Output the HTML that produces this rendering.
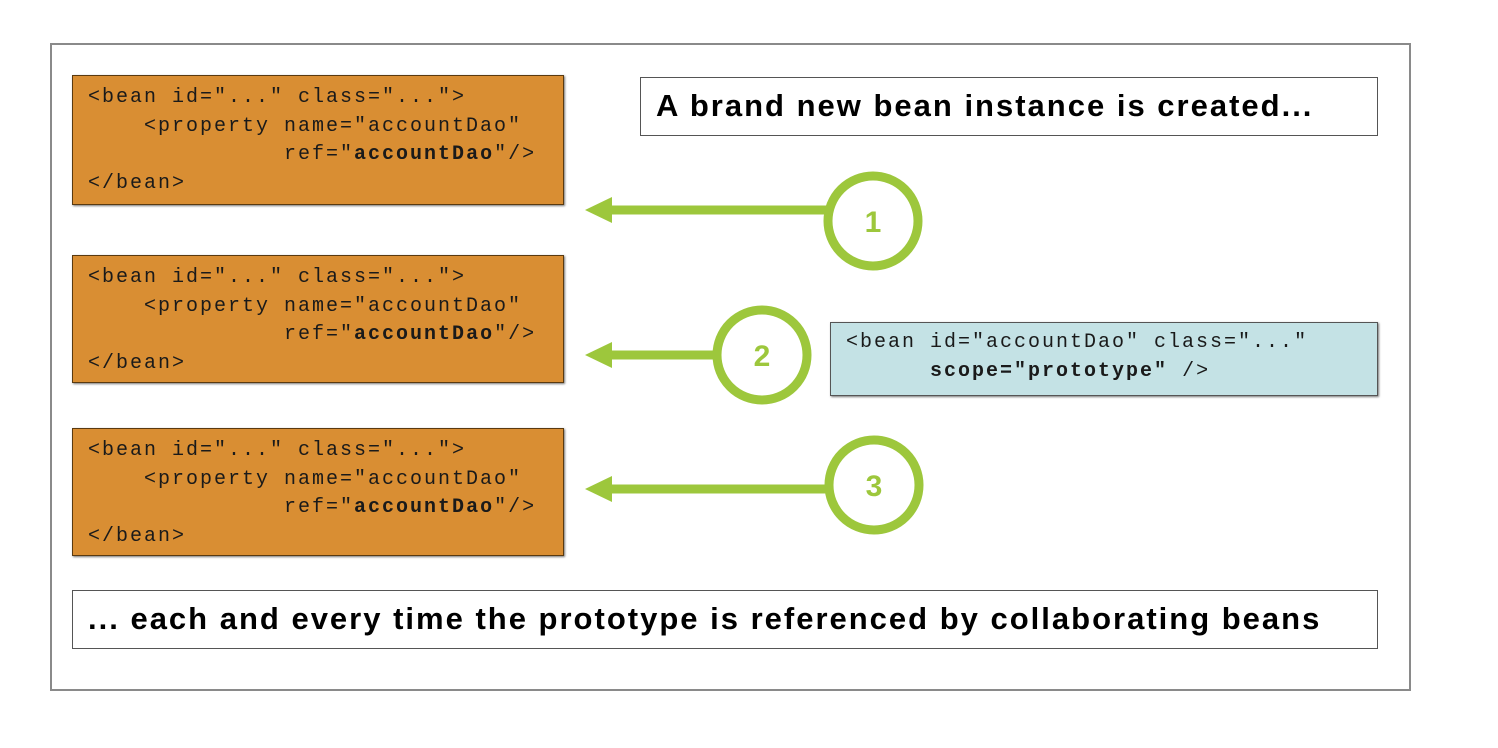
<!DOCTYPE html>
<html><head><style>
body{margin:0;background:#fff;width:1498px;height:748px;position:relative;overflow:hidden}
.a{position:absolute;box-sizing:border-box}
.frame{left:50px;top:43px;width:1361px;height:648px;border:2px solid #8a8a8a}
.code{background:#D98E33;border:1px solid #5a3a10;box-shadow:1px 1px 2px #777;font-family:"Liberation Mono",monospace;font-size:20px;letter-spacing:2px;line-height:28.5px;white-space:pre;padding:8px 0 0 15px;color:#1a1a1a}
.t{background:#fff;border:1px solid #555;font-family:"Liberation Sans",sans-serif;font-weight:bold;font-size:31px;letter-spacing:2px;padding:0 0 0 15px;line-height:56px;color:#000;white-space:nowrap}
.blue{background:#C4E2E5;border:1px solid #555;box-shadow:1px 1px 2px #777;font-family:"Liberation Mono",monospace;font-size:20px;letter-spacing:2px;line-height:28.5px;white-space:pre;padding:6px 0 0 15px;color:#1a1a1a}
b{font-weight:bold}
</style></head><body>
<div class="a frame"></div>
<div class="a code" style="left:72px;top:75px;width:492px;height:130px">&lt;bean id="..." class="..."&gt;
    &lt;property name="accountDao"
              ref="<b>accountDao</b>"/&gt;
&lt;/bean&gt;</div>
<div class="a code" style="left:72px;top:255px;width:492px;height:128px">&lt;bean id="..." class="..."&gt;
    &lt;property name="accountDao"
              ref="<b>accountDao</b>"/&gt;
&lt;/bean&gt;</div>
<div class="a code" style="left:72px;top:428px;width:492px;height:128px">&lt;bean id="..." class="..."&gt;
    &lt;property name="accountDao"
              ref="<b>accountDao</b>"/&gt;
&lt;/bean&gt;</div>
<div class="a t" style="left:640px;top:77px;width:738px;height:59px">A brand new bean instance is created...</div>
<div class="a t" style="left:72px;top:590px;width:1306px;height:59px">... each and every time the prototype is referenced by collaborating beans</div>
<div class="a blue" style="left:830px;top:322px;width:548px;height:74px">&lt;bean id="accountDao" class="..."
      <b>scope="prototype"</b> /&gt;</div>
<svg class="a" style="left:0;top:0" width="1498" height="748">
<g fill="none" stroke="#9DC73C" stroke-width="9">
<circle cx="873" cy="221" r="45"/>
<circle cx="762" cy="355" r="45"/>
<circle cx="874" cy="485" r="45"/>
<line x1="605" y1="210" x2="828" y2="210"/>
<line x1="605" y1="355" x2="717" y2="355"/>
<line x1="605" y1="489" x2="829" y2="489"/>
</g>
<g fill="#9DC73C">
<polygon points="585,210 612,197 612,223"/>
<polygon points="585,355 612,342 612,368"/>
<polygon points="585,489 612,476 612,502"/>
</g>
<g fill="#9DC73C" font-family="Liberation Sans,sans-serif" font-weight="bold" font-size="30" text-anchor="middle">
<text x="873" y="232">1</text>
<text x="762" y="366">2</text>
<text x="874" y="496">3</text>
</g>
</svg>
</body></html>
